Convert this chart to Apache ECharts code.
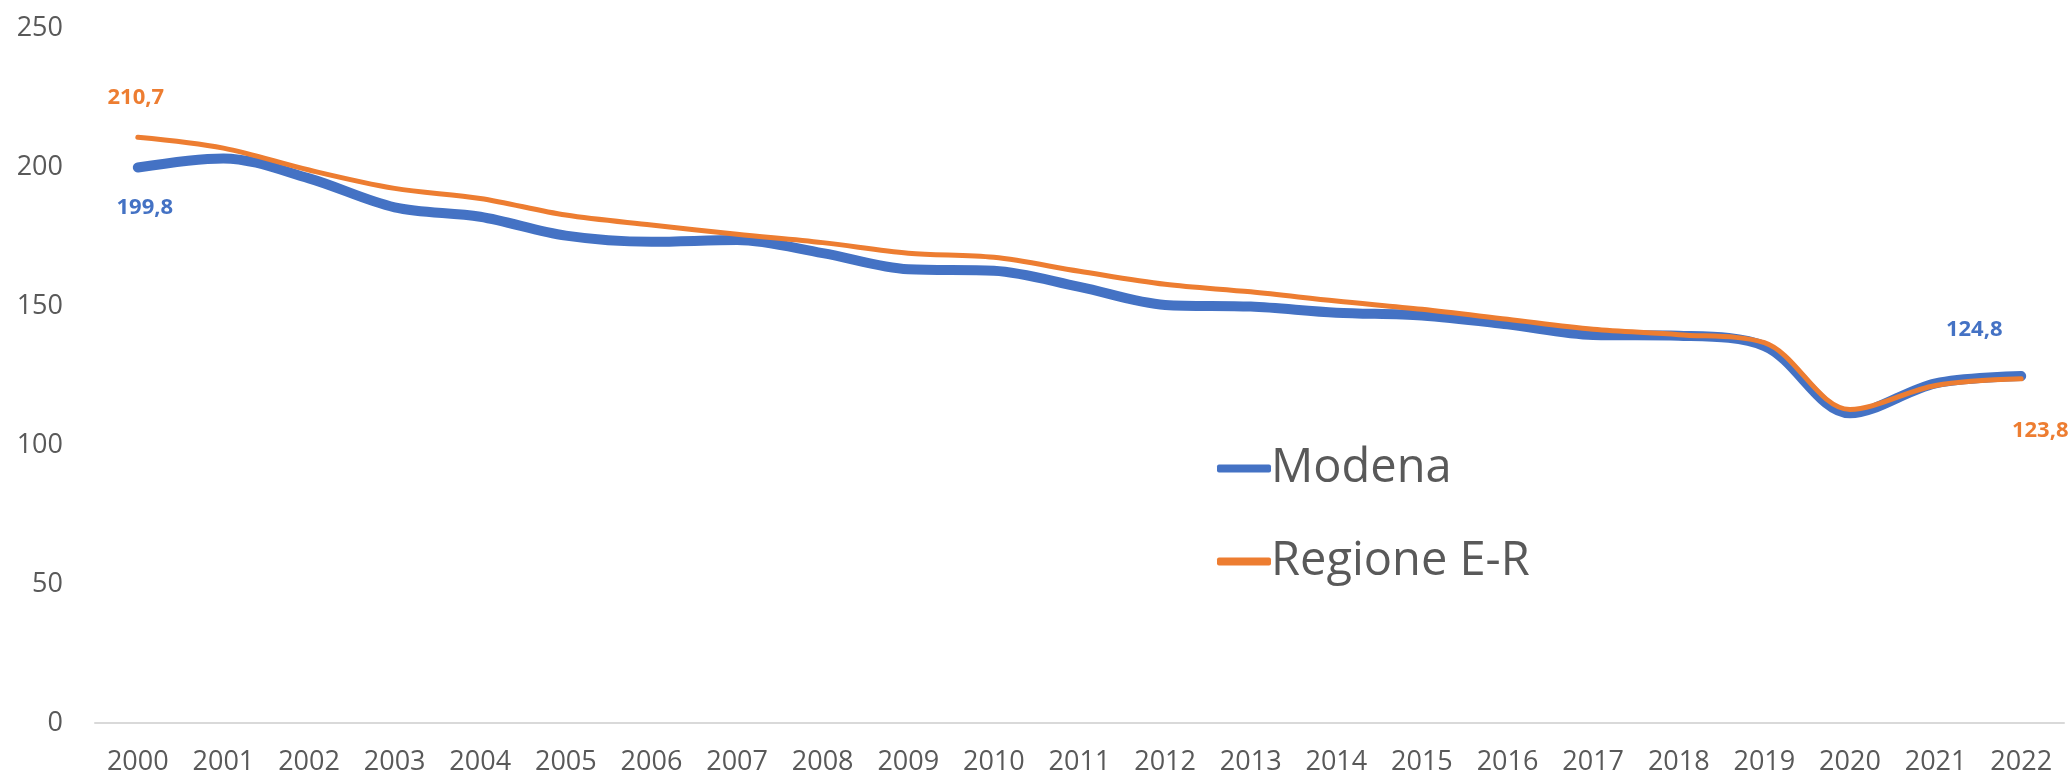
<!DOCTYPE html>
<html>
<head>
<meta charset="utf-8">
<script src="https://cdn.jsdelivr.net/npm/echarts@6/dist/echarts.min.js"></script>
<style>
html,body{margin:0;padding:0;background:#fff;}
#chart{width:2071px;height:779px;}
</style>
</head>
<body>
<div id="chart"></div>
<script>
const years = ['2000','2001','2002','2003','2004','2005','2006','2007','2008','2009','2010','2011','2012','2013','2014','2015','2016','2017','2018','2019','2020','2021','2022'];
const modena = [199.8,203.1,195.9,185.5,182.1,175.3,173.1,173.7,169.0,163.2,162.7,156.9,150.4,149.8,147.6,146.6,143.4,139.6,139.3,135.6,111.4,122.2,124.8];
const regione = [210.7,206.8,198.9,192.3,188.7,182.7,179.1,175.8,172.8,169.0,167.5,162.5,157.8,155.1,151.8,148.8,145.2,141.6,139.7,136.8,112.8,121.4,123.8];
const yTicks = [0,50,100,150,200,250];

const fmt = v => String(v.toFixed(1)).replace('.', ',');
const labelFont = "'Open Sans', sans-serif";

function mkLabel(color, extra) {
  return Object.assign({show: true, color: color, opacity: 1, fontWeight: 'bold', fontSize: 22, fontFamily: labelFont, formatter: p => fmt(p.value)}, extra);
}
function buildData(arr, color, first, last) {
  return arr.map((v, i) => {
    if (i === 0) return {value: v, label: mkLabel(color, first)};
    if (i === arr.length - 1) return {value: v, label: mkLabel(color, last)};
    return v;
  });
}

const chart = echarts.init(document.getElementById('chart'));
chart.setOption({
  animation: false,
  backgroundColor: '#ffffff',
  grid: {left: 95, right: 7, top: 28, bottom: 56, containLabel: false},
  legend: {
    orient: 'vertical',
    left: 1212,
    top: 440,
    itemWidth: 54,
    itemHeight: 8,
    itemGap: 46,
    icon: 'roundRect',
    itemStyle: {opacity: 1},
    textStyle: {color: '#595959', fontSize: 47, fontFamily: labelFont, padding: [0,0,0,-5]},
    data: ['Modena', 'Regione E-R']
  },
  xAxis: {
    type: 'category',
    data: years,
    boundaryGap: true,
    axisLine: {lineStyle: {color: '#D9D9D9', width: 2}},
    axisTick: {show: false},
    axisLabel: {color: '#595959', fontSize: 27, fontFamily: labelFont, margin: 26}
  },
  yAxis: {
    type: 'value',
    min: yTicks[0],
    max: yTicks[yTicks.length - 1],
    interval: 50,
    axisLine: {show: false},
    axisTick: {show: false},
    splitLine: {show: false},
    axisLabel: {color: '#595959', fontSize: 27, fontFamily: labelFont, margin: 32}
  },
  series: [
    {
      name: 'Modena',
      type: 'line',
      smooth: 0.33,
      symbol: 'circle',
      symbolSize: 2,
      showSymbol: true,
      color: '#4472C4',
      itemStyle: {color: '#4472C4', opacity: 0},
      lineStyle: {color: '#4472C4', width: 10, cap: 'round', join: 'round'},
      data: buildData(modena, '#4472C4', {position: 'bottom', distance: 28, offset: [7, 0]}, {position: 'top', distance: 34, offset: [-47, 0]})
    },
    {
      name: 'Regione E-R',
      type: 'line',
      smooth: 0.33,
      symbol: 'circle',
      symbolSize: 2,
      showSymbol: true,
      color: '#ED7D31',
      itemStyle: {color: '#ED7D31', opacity: 0},
      lineStyle: {color: '#ED7D31', width: 5, cap: 'round', join: 'round'},
      data: buildData(regione, '#ED7D31', {position: 'top', distance: 28, offset: [-2, 0]}, {position: 'bottom', distance: 40, offset: [19, 0]})
    }
  ]
});
</script>
</body>
</html>
